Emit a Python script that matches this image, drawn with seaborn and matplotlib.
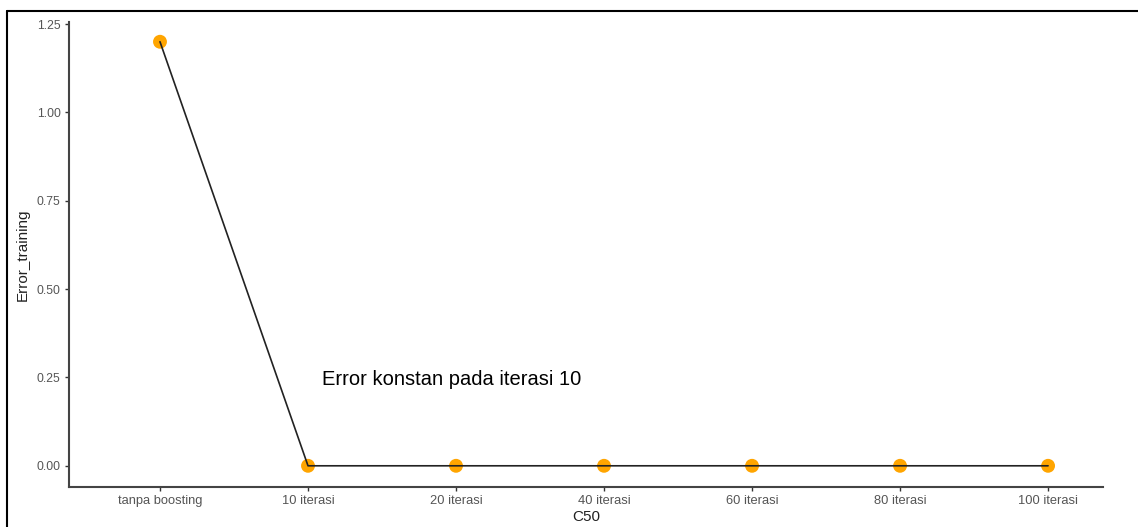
import pandas as pd
import seaborn as sns
import matplotlib.pyplot as plt
from matplotlib.lines import Line2D

categories = ['tanpa boosting', '10 iterasi', '20 iterasi', '40 iterasi',
              '60 iterasi', '80 iterasi', '100 iterasi']
error_training = [1.2, 0, 0, 0, 0, 0, 0]
y_ticks = [0.00, 0.25, 0.50, 0.75, 1.00, 1.25]

df = pd.DataFrame({'C50': categories, 'Error_training': error_training})

sns.set_style('white')
plt.rcParams['font.family'] = ['Liberation Sans', 'DejaVu Sans']

fig = plt.figure(figsize=(11.38, 5.27), dpi=100)
ax = fig.add_axes([0.0606, 0.0759, 0.9085, 0.8824])

sns.scatterplot(data=df, x='C50', y='Error_training', color='#FFA500',
                s=100, edgecolor='none', zorder=2, ax=ax)
sns.lineplot(data=df, x='C50', y='Error_training', color='#222222',
             linewidth=1.2, sort=False, zorder=3, ax=ax)

ax.text(1.97, 0.243, 'Error konstan pada iterasi 10', ha='center', va='center',
        fontsize=14.5, color='black')

ax.set_xlim(-0.615, 6.37)
ax.set_ylim(-0.06, 1.256)
ax.set_yticks(y_ticks)
ax.set_yticklabels([f'{v:.2f}' for v in y_ticks])

ax.set_xlabel('C50', fontsize=11, color='#222222', labelpad=2)
ax.set_ylabel('Error_training', fontsize=11, color='#222222', labelpad=5)
ax.tick_params(axis='both', labelcolor='#555555', color='#333333',
               length=3, width=1, direction='out', left=True, bottom=True, pad=3)
ax.tick_params(axis='x', labelsize=9.3)
ax.tick_params(axis='y', labelsize=8.7)

sns.despine(ax=ax)
for side in ['left', 'bottom']:
    ax.spines[side].set_color('#444444')
    ax.spines[side].set_linewidth(1.5)

# outer frame of the screenshot (left and top edges)
fig.add_artist(Line2D([7 / 1138, 7 / 1138], [0, 1 - 11 / 527], transform=fig.transFigure,
                      color='black', linewidth=1.5))
fig.add_artist(Line2D([7 / 1138, 1], [1 - 11 / 527, 1 - 11 / 527], transform=fig.transFigure,
                      color='black', linewidth=1.5))

plt.savefig('out.png', dpi=100)
